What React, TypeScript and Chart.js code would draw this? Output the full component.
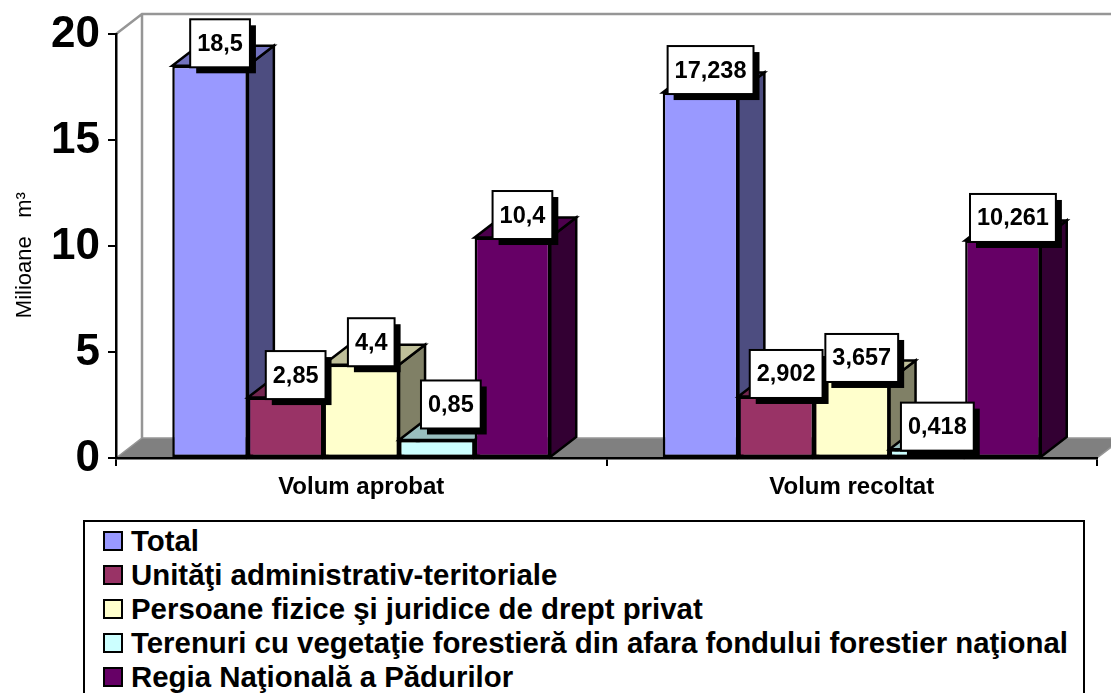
import React, { useEffect, useRef } from "react";
import { Chart, registerables } from "chart.js";

Chart.register(...registerables);

const categories = ["Volum aprobat", "Volum recoltat"];
const seriesNames = [
  "Total",
  "Unităţi administrativ-teritoriale",
  "Persoane fizice şi juridice de drept privat",
  "Terenuri cu vegetaţie forestieră din afara fondului forestier naţional",
  "Regia Naţională a Pădurilor",
];
const total = [18.5, 17.238];
const unitati = [2.85, 2.902];
const persoane = [4.4, 3.657];
const terenuri = [0.85, 0.418];
const regia = [10.4, 10.261];
const seriesValues = [total, unitati, persoane, terenuri, regia];

const frontColors = ["#9999FF", "#993366", "#FFFFCC", "#CCFFFF", "#660066"];
const sideColors = ["#4D4D80", "#4D1A33", "#808066", "#668080", "#330033"];
const topColors = ["#7373BF", "#732650", "#BFBF99", "#99BFBF", "#4D004D"];

const FONT = '"Liberation Sans", Arial, sans-serif';
const DX = 26;
const DY = -20;

function poly(ctx: CanvasRenderingContext2D, pts: number[][], fill: string | null, stroke: string, lw: number) {
  ctx.beginPath();
  pts.forEach((p, i) => (i ? ctx.lineTo(p[0], p[1]) : ctx.moveTo(p[0], p[1])));
  ctx.closePath();
  if (fill) {
    ctx.fillStyle = fill;
    ctx.fill();
  }
  ctx.strokeStyle = stroke;
  ctx.lineWidth = lw;
  ctx.lineJoin = "miter";
  ctx.stroke();
}

const depthPlugin = {
  id: "depth3d",
  beforeDraw(chart: any) {
    const { ctx, chartArea: a } = chart;
    ctx.save();
    ctx.strokeStyle = "#969696";
    ctx.lineWidth = 2.5;
    ctx.beginPath();
    ctx.moveTo(a.left, a.top);
    ctx.lineTo(a.left + DX, a.top + DY);
    ctx.lineTo(a.right + DX, a.top + DY);
    ctx.moveTo(a.left + DX, a.top + DY);
    ctx.lineTo(a.left + DX, a.bottom + DY);
    ctx.stroke();
    poly(
      ctx,
      [
        [a.left, a.bottom],
        [a.left + DX, a.bottom + DY],
        [a.right + DX, a.bottom + DY],
        [a.right, a.bottom],
      ],
      "#808080",
      "#969696",
      1.5
    );
    ctx.restore();
  },
  // Painter's order: left-hand series first, so nearer faces overlap correctly.
  beforeDatasetDraw() {
    return false;
  },
  afterDatasetsDraw(chart: any) {
    const { ctx } = chart;
    ctx.save();
    seriesValues.forEach((_, i) => {
      const meta = chart.getDatasetMeta(i);
      meta.data.forEach((bar: any) => {
        const r = bar.x + bar.width / 2;
        const l = bar.x - bar.width / 2;
        poly(ctx, [[r, bar.y], [r + DX, bar.y + DY], [r + DX, bar.base + DY], [r, bar.base]], sideColors[i], "#000", 2.5);
        poly(ctx, [[l, bar.y], [l + DX, bar.y + DY], [r + DX, bar.y + DY], [r, bar.y]], topColors[i], "#000", 2.5);
      });
      meta.controller.draw();
    });
    ctx.font = `bold 23.5px ${FONT}`;
    ctx.textAlign = "center";
    ctx.textBaseline = "middle";
    const lifted = chart.getDatasetMeta(3).data[0];
    seriesValues.forEach((vals, d) => {
      chart.getDatasetMeta(d).data.forEach((bar: any, c: number) => {
        const text = String(vals[c]).replace(".", ",");
        const w = ctx.measureText(text).width + 14;
        const h = 48;
        let cx = bar.x + 10;
        let cy = bar.y - 22.5;
        if (bar === lifted) {
          cx += 4;
          cy -= 13;
        }
        ctx.fillStyle = "#000";
        ctx.fillRect(cx - w / 2 + 6, cy - h / 2 + 6, w, h);
        ctx.fillStyle = "#fff";
        ctx.strokeStyle = "#000";
        ctx.lineWidth = 2;
        ctx.fillRect(cx - w / 2, cy - h / 2, w, h);
        ctx.strokeRect(cx - w / 2, cy - h / 2, w, h);
        ctx.fillStyle = "#000";
        ctx.fillText(text, cx, cy + 1);
      });
    });
    ctx.restore();
  },
};

export default function App() {
  const ref = useRef<HTMLCanvasElement>(null);
  useEffect(() => {
    const chart = new Chart(ref.current as HTMLCanvasElement, {
      type: "bar",
      data: {
        labels: categories,
        datasets: seriesNames.map((name, i) => ({
          label: name,
          data: seriesValues[i],
          backgroundColor: frontColors[i],
          borderColor: "#000",
          borderWidth: 2.5,
          borderSkipped: false,
          clip: false,
          categoryPercentage: 0.7706,
          barPercentage: 1,
        })),
      },
      options: {
        responsive: false,
        animation: false,
        layout: { padding: { left: 0, right: 14, top: 34, bottom: 0 } },
        plugins: { legend: { display: false }, tooltip: { enabled: false } },
        scales: {
          x: {
            afterFit: (s: any) => {
              s.height = 235;
            },
            border: { color: "#000", width: 2.5 },
            grid: { drawOnChartArea: false, color: "#000", tickColor: "#000", tickLength: 8, lineWidth: 2 },
            ticks: { color: "#000", font: { family: FONT, size: 24, weight: "bold" }, padding: 7, maxRotation: 0 },
          },
          y: {
            min: 0,
            max: 20,
            afterFit: (s: any) => {
              s.width = 116;
            },
            border: { color: "#000", width: 2.5 },
            grid: { drawOnChartArea: false, color: "#000", tickColor: "#000", tickLength: 8, lineWidth: 2 },
            ticks: {
              stepSize: 5,
              color: "#000",
              font: { family: FONT, size: 44, weight: "bold", lineHeight: "2px" },
              padding: 8,
              callback: (v: any) => ["", String(v)],
            },
            title: {
              display: true,
              text: "Milioane   m³   ",
              color: "#000",
              font: { family: FONT, size: 22 },
              padding: { top: 12, bottom: 0 },
            },
          },
        },
      } as any,
      plugins: [depthPlugin as any],
    });
    return () => chart.destroy();
  }, []);

  return (
    <div style={{ position: "absolute", left: 0, top: 0, width: 1111, height: 693, overflow: "hidden", background: "#fff" }}>
      <canvas ref={ref} width={1111} height={693} style={{ display: "block" }} />
      <div
        style={{
          position: "absolute",
          left: 83,
          top: 520,
          width: 1002,
          height: 200,
          boxSizing: "border-box",
          border: "2.5px solid #000",
          background: "#fff",
          fontFamily: FONT,
          fontWeight: "bold",
          fontSize: 29.4,
          color: "#000",
        }}
      >
        {seriesNames.map((name, i) => (
          <div key={name} style={{ position: "absolute", left: 18, top: 2 + i * 34, height: 34, display: "flex", alignItems: "center", whiteSpace: "nowrap" }}>
            <span style={{ width: 20, height: 20, boxSizing: "border-box", border: "2.5px solid #000", background: frontColors[i], marginRight: 8, flex: "none" }} />
            <span>{name}</span>
          </div>
        ))}
      </div>
    </div>
  );
}
